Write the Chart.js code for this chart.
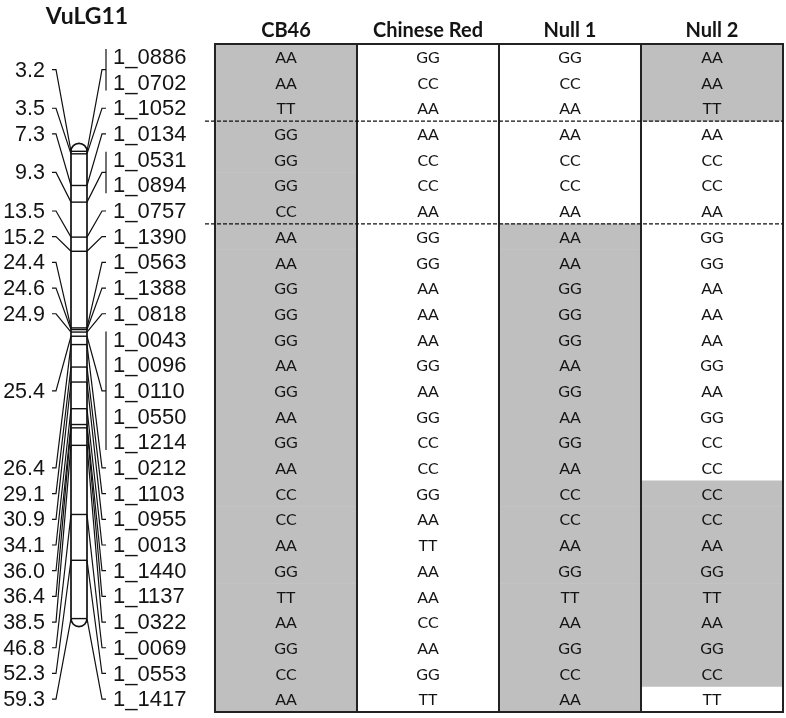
<!DOCTYPE html>
<html>
<head>
<meta charset="utf-8">
<script src="https://cdn.jsdelivr.net/npm/chart.js@4.4.1/dist/chart.umd.min.js"></script>
<style>
  html, body { margin: 0; padding: 0; background: #ffffff; }
  #wrap { width: 786px; height: 718px; position: relative; }
</style>
</head>
<body>
<div id="wrap"><canvas id="c" width="786" height="718"></canvas></div>
<script>
// ---------------- data ----------------
const title = 'VuLG11';
const markers = ['1_0886','1_0702','1_1052','1_0134','1_0531','1_0894','1_0757','1_1390','1_0563','1_1388','1_0818','1_0043','1_0096','1_0110','1_0550','1_1214','1_0212','1_1103','1_0955','1_0013','1_1440','1_1137','1_0322','1_0069','1_0553','1_1417'];
const positionsCM = [3.2,3.2,3.5,7.3,9.3,9.3,13.5,15.2,24.4,24.6,24.9,25.4,25.4,25.4,25.4,25.4,26.4,29.1,30.9,34.1,36.0,36.4,38.5,46.8,52.3,59.3];
const lines = ['CB46','Chinese Red','Null 1','Null 2'];
const cb46       = ['AA','AA','TT','GG','GG','GG','CC','AA','AA','GG','GG','GG','AA','GG','AA','GG','AA','CC','CC','AA','GG','TT','AA','GG','CC','AA'];
const chineseRed = ['GG','CC','AA','AA','CC','CC','AA','GG','GG','AA','AA','AA','GG','AA','GG','CC','CC','GG','AA','TT','AA','AA','CC','AA','GG','TT'];
const null1      = ['GG','CC','AA','AA','CC','CC','AA','AA','AA','GG','GG','GG','AA','GG','AA','GG','AA','CC','CC','AA','GG','TT','AA','GG','CC','AA'];
const null2      = ['AA','AA','TT','AA','CC','CC','AA','GG','GG','AA','AA','AA','GG','AA','GG','CC','CC','CC','CC','AA','GG','TT','AA','GG','CC','TT'];
const dividers = [3, 7]; // dashed line after these row counts

const genotypes = [cb46, chineseRed, null1, null2];
const GREY = 'rgb(191,191,191)';

// shaded cells: genotype identical to CB46 allele
const datasets = genotypes.map((col, c) => ({
  label: lines[c],
  data: col.map((g, i) => (g === cb46[i] ? [c, c + 1] : null)),
  backgroundColor: GREY,
  borderWidth: 0,
  grouped: false,
  barPercentage: 1,
  categoryPercentage: 1
}));

// ---------------- drawing plugin ----------------
const figurePlugin = {
  id: 'figure',
  afterDatasetsDraw(chart) {
    const { ctx, scales } = chart;
    const xs = scales.x, ys = scales.y, cm = scales.ycm;
    const n = markers.length;
    const rowH = ys.getPixelForValue(1) - ys.getPixelForValue(0);
    const top = ys.getPixelForValue(0) - rowH / 2;
    const bottom = ys.getPixelForValue(n - 1) + rowH / 2;
    const ink = '#141414';

    ctx.save();
    // ---- table grid ----
    ctx.strokeStyle = '#222';
    ctx.lineWidth = 2;
    for (let c = 0; c <= lines.length; c++) {
      const px = xs.getPixelForValue(c);
      ctx.beginPath();
      ctx.moveTo(px, top);
      ctx.lineTo(px, bottom);
      ctx.stroke();
    }
    ctx.beginPath();
    ctx.moveTo(xs.getPixelForValue(0) - 1, top);
    ctx.lineTo(xs.getPixelForValue(lines.length) + 1, top);
    ctx.moveTo(xs.getPixelForValue(0) - 1, bottom);
    ctx.lineTo(xs.getPixelForValue(lines.length) + 1, bottom);
    ctx.stroke();

    // dashed dividers
    ctx.strokeStyle = '#111';
    ctx.lineWidth = 1.3;
    ctx.setLineDash([4, 2]);
    dividers.forEach(d => {
      const py = (ys.getPixelForValue(d - 1) + ys.getPixelForValue(d)) / 2;
      ctx.beginPath();
      ctx.moveTo(xs.getPixelForValue(0) - 10, py);
      ctx.lineTo(xs.getPixelForValue(lines.length), py);
      ctx.stroke();
    });
    ctx.setLineDash([]);

    // cell texts
    ctx.fillStyle = ink;
    ctx.textAlign = 'center';
    ctx.textBaseline = 'middle';
    ctx.font = '16px Lato';
    genotypes.forEach((col, c) => {
      const px = xs.getPixelForValue(c + 0.5);
      col.forEach((g, i) => ctx.fillText(g, px, ys.getPixelForValue(i) + 1));
    });
    // headers
    ctx.font = 'bold 20px Lato';
    lines.forEach((l, c) => ctx.fillText(l, xs.getPixelForValue(c + 0.5), top - 13));

    // title
    ctx.font = 'bold 23px Lato';
    ctx.fillText(title, 87, 17);

    // ---- linkage map ----
    const chrL = 71, chrR = 87, chrC = (chrL + chrR) / 2, capR = 8;
    const minCM = Math.min(...positionsCM), maxCM = Math.max(...positionsCM);
    const yTop = cm.getPixelForValue(minCM), yBot = cm.getPixelForValue(maxCM);

    ctx.strokeStyle = '#111';
    ctx.lineWidth = 1.7;
    ctx.beginPath();
    ctx.moveTo(chrL, yTop); ctx.lineTo(chrL, yBot);
    ctx.moveTo(chrR, yTop); ctx.lineTo(chrR, yBot);
    ctx.stroke();
    ctx.beginPath();
    ctx.arc(chrC, yTop, capR, Math.PI, 2 * Math.PI);
    ctx.stroke();
    ctx.beginPath();
    ctx.arc(chrC, yBot, capR, 0, Math.PI);
    ctx.stroke();

    // cross lines on chromosome
    ctx.lineWidth = 1.4;
    const uniq = [...new Set(positionsCM)];
    uniq.forEach(p => {
      const py = cm.getPixelForValue(p);
      ctx.beginPath();
      ctx.moveTo(chrL, py); ctx.lineTo(chrR, py);
      ctx.stroke();
    });

    // groups of markers at the same position
    const groups = [];
    positionsCM.forEach((p, i) => {
      const g = groups[groups.length - 1];
      if (g && g.cm === p) g.rows.push(i);
      else groups.push({ cm: p, rows: [i] });
    });

    ctx.lineWidth = 1.2;
    ctx.strokeStyle = '#111';
    const leftTextX = 45, leftStart = 52, leftBend = 56;
    const rightBend = 102, rightEnd = 106, rightTextX = 113;
    groups.forEach(g => {
      const yc = cm.getPixelForValue(g.cm);
      const first = ys.getPixelForValue(g.rows[0]);
      const last = ys.getPixelForValue(g.rows[g.rows.length - 1]);
      const ly = (first + last) / 2;
      // left connector
      ctx.beginPath();
      ctx.moveTo(leftStart, ly);
      ctx.lineTo(leftBend, ly);
      ctx.lineTo(chrL, yc);
      ctx.stroke();
      // right connector
      ctx.beginPath();
      ctx.moveTo(chrR, yc);
      ctx.lineTo(rightBend, ly);
      ctx.lineTo(rightEnd, ly);
      ctx.stroke();
      if (g.rows.length > 1) {
        ctx.beginPath();
        ctx.moveTo(rightEnd, first - rowH / 2 + 5);
        ctx.lineTo(rightEnd, last + rowH / 2 - 5);
        ctx.stroke();
      }
      // cM label
      ctx.fillStyle = ink;
      ctx.font = '21.5px "Liberation Sans", Arial';
      ctx.textAlign = 'right';
      ctx.textBaseline = 'middle';
      ctx.fillText(g.cm.toFixed(1), leftTextX, ly + 1);
    });
    // marker labels
    ctx.textAlign = 'left';
    ctx.font = '22px "Liberation Sans", Arial';
    markers.forEach((m, i) => ctx.fillText(m, rightTextX, ys.getPixelForValue(i) + 1));
    ctx.restore();
  }
};

function build() {
  new Chart(document.getElementById('c'), {
    type: 'bar',
    data: { labels: markers, datasets },
    options: {
      indexAxis: 'y',
      responsive: false,
      devicePixelRatio: 1,
      animation: false,
      layout: { padding: { top: 44, bottom: 6, left: 0, right: 3 } },
      scales: {
        x: { type: 'linear', min: -1.514, max: 4, display: false },
        y: { type: 'category', offset: true, display: false },
        ycm: { type: 'linear', axis: 'y', min: -5.23, max: 66.06, reverse: true, display: false }
      },
      plugins: { legend: { display: false }, tooltip: { enabled: false } }
    },
    plugins: [figurePlugin]
  });
}
Promise.all([
  document.fonts.load('16px Lato'),
  document.fonts.load('bold 20px Lato'),
  document.fonts.load('21px "Liberation Sans"')
]).then(build, build);
</script>
</body>
</html>
